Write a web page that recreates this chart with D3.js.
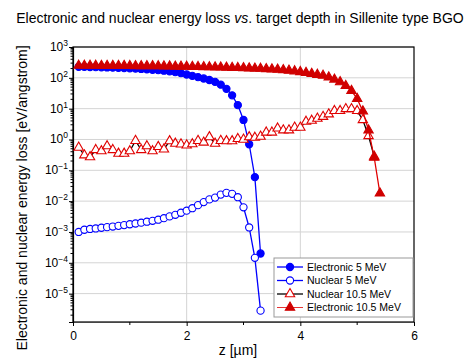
<!DOCTYPE html>
<html lang="en">
<head>
<meta charset="UTF-8">
<title>Energy loss vs depth</title>
<script src="https://d3js.org/d3.v7.min.js"></script>
<style>
    body { margin: 0; background: #fff; }
    svg { font-family: "Liberation Sans", Arial, sans-serif; }
</style>
</head>
<body>
<div id="chart"></div>
<script>
// depth steps [um]
const depth5 = [0.1, 0.2, 0.3, 0.4, 0.5, 0.6, 0.7, 0.8, 0.9, 1.0,
    1.1, 1.2, 1.3, 1.4, 1.5, 1.6, 1.7, 1.8, 1.9, 2.0,
    2.1, 2.2, 2.3, 2.4, 2.5, 2.6, 2.7, 2.8, 2.9, 3.0,
    3.1, 3.2, 3.3];
const depth105 = [0.1, 0.2, 0.3, 0.4, 0.5, 0.6, 0.7, 0.8, 0.9, 1.0,
    1.1, 1.2, 1.3, 1.4, 1.5, 1.6, 1.7, 1.8, 1.9, 2.0,
    2.1, 2.2, 2.3, 2.4, 2.5, 2.6, 2.7, 2.8, 2.9, 3.0,
    3.1, 3.2, 3.3, 3.4, 3.5, 3.6, 3.7, 3.8, 3.9, 4.0,
    4.1, 4.2, 4.3, 4.4, 4.5, 4.6, 4.7, 4.8, 4.9, 5.0,
    5.1, 5.2, 5.3, 5.4];

// energy loss [eV/angstrom]
const electronic5 = [228, 226, 224, 222, 220, 217, 214, 211, 207, 203,
    199, 194, 189, 183, 177, 170, 162, 153, 142, 128,
    116, 105, 95, 85, 74, 60, 44, 27, 13, 4.3,
    0.7, 0.06, 0.0002];
const nuclear5 = [0.0010, 0.00118, 0.00125, 0.0013, 0.00137, 0.00143, 0.0015, 0.00158, 0.00167, 0.00178,
    0.00188, 0.0020, 0.00215, 0.0023, 0.0025, 0.0028, 0.0032, 0.0036, 0.0042, 0.0049,
    0.0059, 0.0074, 0.0093, 0.0114, 0.0130, 0.0163, 0.0186, 0.0172, 0.0134, 0.0063,
    0.0014, 0.000145, 0.0000028];
const nuclear105 = [0.55, 0.31, 0.27, 0.46, 0.42, 0.61, 0.46, 0.35, 0.35, 0.42,
    0.91, 0.46, 0.61, 0.42, 0.58, 0.48, 0.89, 0.74, 0.70, 0.65,
    0.71, 0.91, 0.80, 1.2, 0.74, 0.91, 0.89, 0.89, 1.05, 1.0,
    1.2, 1.15, 1.25, 1.7, 1.7, 2.3, 2.0, 2.0, 2.45, 2.45,
    3.8, 4.1, 4.8, 5.5, 6.6, 8.5, 8.5, 9.8, 9.8, 8.5,
    4.3, 1.3, 0.28];
const electronic105 = [250, 250, 249, 249, 248, 248, 247, 247, 246, 245,
    244, 243, 242, 241, 240, 238, 237, 235, 233, 231,
    229, 227, 225, 223, 221, 219, 217, 214, 211, 208,
    205, 202, 199, 195, 191, 186, 180, 173, 165, 156,
    146, 136, 127, 118, 104, 89, 73, 55, 38, 21,
    8.3, 2.0, 0.26, 0.018];

const xTicks = [0, 2, 4, 6];
const xMinor = [1, 3, 5];
const yExponents = [3, 2, 1, 0, -1, -2, -3, -4, -5];

const series = [
    { name: 'Electronic 5 MeV', x: depth5, y: electronic5, line: '#0000ff', stroke: '#0000ff', fill: '#0000ff', shape: 'circle' },
    { name: 'Nuclear 5 MeV', x: depth5, y: nuclear5, line: '#0000ff', stroke: '#0000ff', fill: '#fff', shape: 'circle' },
    { name: 'Nuclear 10.5 MeV', x: depth105.slice(0, nuclear105.length), y: nuclear105, line: '#000', stroke: '#e00000', fill: '#fff', shape: 'triangle' },
    { name: 'Electronic 10.5 MeV', x: depth105, y: electronic105, line: '#e00000', stroke: '#d00000', fill: '#d00000', shape: 'triangle' }
];

const width = 471, height = 358;
const m = { left: 73, right: 414, top: 47, bottom: 322 };

const svg = d3.select('#chart').append('svg')
    .attr('width', width)
    .attr('height', height);

const x = d3.scaleLinear().domain([0, 6]).range([m.left, m.right]);
const y = d3.scaleLog().domain([1.2e-6, 1000]).range([m.bottom, m.top]);

// title
const title = svg.append('text')
    .attr('x', 240).attr('y', 23)
    .attr('text-anchor', 'middle')
    .style('font-size', '14px');
title.append('tspan').text('Electronic and nuclear energy loss ');
title.append('tspan').style('font-style', 'italic').text('vs');
title.append('tspan').text('. target depth in Sillenite type BGO');

// grid
const grid = svg.append('g');
grid.selectAll('.hg').data(yExponents)
    .enter().append('line')
    .attr('x1', m.left).attr('x2', m.right)
    .attr('y1', d => y(Math.pow(10, d))).attr('y2', d => y(Math.pow(10, d)))
    .attr('stroke', '#d4d4d4');
grid.selectAll('.vg').data([2, 4])
    .enter().append('line')
    .attr('y1', m.top).attr('y2', m.bottom)
    .attr('x1', d => x(d)).attr('x2', d => x(d))
    .attr('stroke', '#d4d4d4');

// frame
svg.append('rect')
    .attr('x', m.left).attr('y', m.top)
    .attr('width', m.right - m.left).attr('height', m.bottom - m.top)
    .attr('fill', 'none').attr('stroke', '#000').attr('stroke-width', 1.2);

// x axis
const xAxis = svg.append('g').attr('transform', `translate(0,${m.bottom})`);
xAxis.call(d3.axisBottom(x).tickValues(xTicks).tickSize(4).tickFormat(d3.format('d')));
xAxis.call(g => g.select('.domain').attr('stroke', '#444'));
xAxis.selectAll('text').style('font-size', '12px').attr('dy', '0.9em');
xAxis.selectAll('.minor').data(xMinor)
    .enter().append('line')
    .attr('class', 'minor')
    .attr('x1', d => x(d)).attr('x2', d => x(d))
    .attr('y1', 0).attr('y2', 3)
    .attr('stroke', '#000');

// y axis
const yAxis = svg.append('g').attr('transform', `translate(${m.left},0)`);
yAxis.call(d3.axisLeft(y).tickValues(yExponents.map(e => Math.pow(10, e))).tickSize(4).tickFormat(''));
yAxis.call(g => g.select('.domain').attr('stroke-width', 1.2));
const minorY = y.ticks().filter(v => Math.abs(Math.log10(v) - Math.round(Math.log10(v))) > 1e-6);
yAxis.selectAll('.minor').data(minorY)
    .enter().append('line')
    .attr('class', 'minor')
    .attr('x1', -2.5).attr('x2', 0)
    .attr('y1', d => y(d)).attr('y2', d => y(d))
    .attr('stroke', '#000');

const yLab = yAxis.selectAll('.ylab').data(yExponents)
    .enter().append('text')
    .attr('class', 'ylab')
    .attr('x', -5)
    .attr('y', d => y(Math.pow(10, d)) + 4)
    .attr('text-anchor', 'end')
    .attr('fill', '#000')
    .style('font-size', '12px');
yLab.append('tspan').text('10');
yLab.append('tspan').attr('dy', -5).style('font-size', '8.5px')
    .text(d => d < 0 ? '\u2212' + Math.abs(d) : d);

// axis titles
svg.append('text')
    .attr('transform', 'translate(27,198) rotate(-90)')
    .attr('text-anchor', 'middle')
    .style('font-size', '14px')
    .text('Electronic and nuclear energy loss [eV/angstrom]');
svg.append('text')
    .attr('x', 238).attr('y', 355)
    .attr('text-anchor', 'middle')
    .style('font-size', '14px')
    .text('z [\u00b5m]');

// series
const line = d3.line().x(d => x(d[0])).y(d => y(d[1]));
const tri = d3.symbol().type(d3.symbolTriangle).size(38);

function drawMarker(g, s, px, py) {
    if (s.shape === 'circle') {
        g.append('circle').attr('cx', px).attr('cy', py).attr('r', 3.6)
            .attr('fill', s.fill).attr('stroke', s.stroke).attr('stroke-width', 1.1);
    } else {
        g.append('path').attr('d', tri).attr('transform', `translate(${px},${py})`)
            .attr('fill', s.fill).attr('stroke', s.stroke).attr('stroke-width', 1.1);
    }
}

const plot = svg.append('g');
series.forEach(s => {
    const pts = s.x.map((v, i) => [v, s.y[i]]);
    const g = plot.append('g');
    g.append('path').datum(pts)
        .attr('d', line)
        .attr('fill', 'none')
        .attr('stroke', s.line)
        .attr('stroke-width', 1.3);
    pts.forEach(p => drawMarker(g, s, x(p[0]), y(p[1])));
});

// legend
const lg = svg.append('g').attr('transform', 'translate(274,258)');
lg.append('rect').attr('width', 139).attr('height', 59)
    .attr('fill', '#fff').attr('stroke', '#999');
series.forEach((s, i) => {
    const ry = 9 + i * 13.5;
    lg.append('line').attr('x1', 3).attr('x2', 29).attr('y1', ry).attr('y2', ry)
        .attr('stroke', s.line).attr('stroke-width', i === 3 ? 0.8 : 1.3);
    drawMarker(lg, s, 16, ry);
    lg.append('text').attr('x', 33).attr('y', ry + 3.8)
        .style('font-size', '10.5px').text(s.name);
});
</script>
</body>
</html>
